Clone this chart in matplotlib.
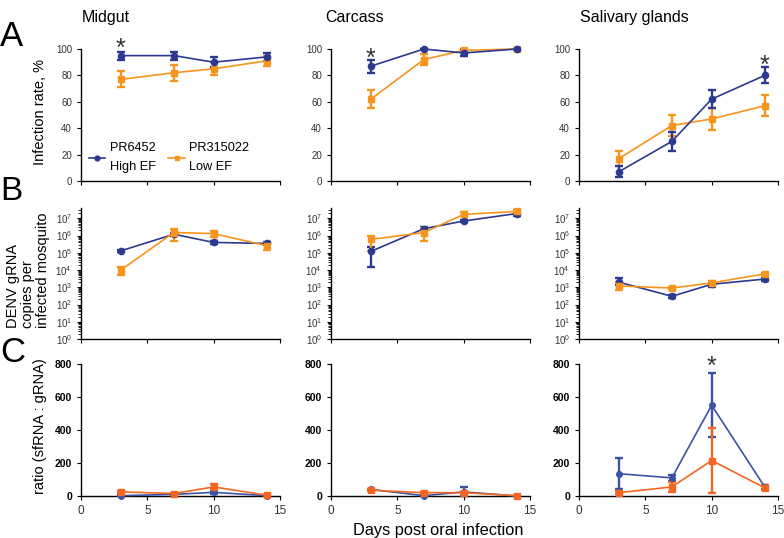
import matplotlib
matplotlib.use('Agg')
import matplotlib.pyplot as plt
from matplotlib.ticker import LogLocator, FixedLocator, NullFormatter
from matplotlib.lines import Line2D

plt.rcParams.update({
    'font.family': ['Liberation Sans', 'DejaVu Sans'],
    'mathtext.fontset': 'custom',
    'mathtext.rm': 'Liberation Sans',
    'mathtext.it': 'Liberation Sans',
    'axes.spines.top': False,
    'axes.spines.right': False,
    'axes.linewidth': 1.0,
})

C_BLUE = '#2b3990'
C_ORANGE = '#f7941d'
C_BLUE2 = '#3a53a4'
C_RED = '#f26522'

days = [3, 7, 10, 14]
tissues = ['Midgut', 'Carcass', 'Salivary glands']

# Row A: infection rate (%)
rate_hi = [[95, 95, 90, 94], [87, 100, 97, 100], [7, 30, 62, 80]]
rate_hi_err = [[3, 3, 4, 3], [5, 0, 2, 0], [4, 7, 7, 6]]
rate_lo = [[77, 82, 85, 91], [62, 92, 99, 100], [17, 42, 47, 57]]
rate_lo_err = [[6, 6, 5, 4], [7, 4, 1, 0], [6, 8, 8, 8]]
rate_star = [(3, 95), (3, 87), (14, 82)]

# Row B: gRNA copies per infected mosquito
copies_hi = [[1.3e5, 1.2e6, 4e5, 3.5e5], [1.2e5, 2.5e6, 7e6, 1.9e7], [2e3, 3e2, 1.5e3, 3e3]]
copies_hi_lo = [[1.1e5, 9e5, 3.3e5, 3e5], [1.5e4, 2e6, 6e6, 1.4e7], [1.3e3, 2.5e2, 1.1e3, 2.4e3]]
copies_hi_up = [[1.5e5, 1.5e6, 5e5, 4e5], [2.2e5, 3e6, 8e6, 2.3e7], [3.6e3, 3.5e2, 2e3, 3.6e3]]
copies_lo = [[1e4, 1.5e6, 1.3e6, 2.6e5], [6e5, 1.5e6, 1.7e7, 2.5e7], [1.2e3, 9e2, 1.8e3, 6e3]]
copies_lo_lo = [[5e3, 5e5, 8e5, 1.5e5], [1.3e5, 5e5, 1.3e7, 2e7], [7e2, 7.5e2, 1.5e3, 5e3]]
copies_lo_up = [[1.6e4, 2.5e6, 1.9e6, 3.5e5], [1e6, 2.6e6, 2.2e7, 3e7], [2e3, 1.1e3, 2.2e3, 7e3]]

# Row C: sfRNA:gRNA ratio
ratio_hi = [[2, 10, 22, 2], [40, 2, 25, 0], [135, 110, 550, 55]]
ratio_hi_err = [[2, 4, 8, 2], [5, 3, 28, 2], [95, 20, 195, 10]]
ratio_lo = [[25, 15, 55, 5], [35, 20, 20, 2], [20, 55, 215, 50]]
ratio_lo_err = [[8, 5, 15, 3], [5, 5, 6, 2], [10, 30, 195, 15]]
ratio_star = [None, None, (10, 738)]

fig = plt.figure(figsize=(7.84, 5.38), dpi=100)
W, H = 784, 538
col_x = [81, 331, 579]
col_w = 199
title_x = [82, 325, 580]

def make_ax(x0, top, bottom):
    return fig.add_axes([x0 / W, 1 - bottom / H, col_w / W, (bottom - top) / H])

def eb(ax, y, yerr, color, marker, ms):
    ax.errorbar(days, y, yerr=yerr, color=color, marker=marker, ms=ms,
                lw=1.2, elinewidth=1.7, capsize=3, capthick=1.7, clip_on=False, zorder=3)

for i in range(3):
    # Row A
    ax = make_ax(col_x[i], 49, 181)
    eb(ax, rate_lo[i], rate_lo_err[i], C_ORANGE, 's', 4.5)
    eb(ax, rate_hi[i], rate_hi_err[i], C_BLUE, 'o', 4.5)
    ax.set_xlim(0, 15)
    ax.set_ylim(0, 100)
    ax.set_yticks([0, 20, 40, 60, 80, 100])
    ax.set_xticks([0, 5, 10, 15])
    ax.set_xticklabels([])
    ax.tick_params(labelsize=7, length=3, labelcolor='#333333')
    sx, sy = rate_star[i]
    ax.text(sx, sy, '*', ha='center', va='baseline', fontsize=18, color='#333333')
    fig.text(title_x[i] / W, 1 - 22 / H, tissues[i], ha='left', va='baseline', fontsize=11.5)
    if i == 0:
        handles = [Line2D([0], [0], color=C_BLUE, marker='o', ms=3.5, lw=1.2),
                   Line2D([0], [0], color=C_ORANGE, marker='s', ms=3.5, lw=1.2)]
        ax.legend(handles, ['PR6452\nHigh EF', 'PR315022\nLow EF'], ncol=2,
                  loc='lower left', bbox_to_anchor=(-0.02, -0.03), frameon=False,
                  fontsize=9.2, handlelength=1.3, handletextpad=0.35, columnspacing=1.0,
                  labelspacing=0.3)
        for t in ax.get_legend().get_texts():
            t.set_linespacing(1.8)

    # Row B
    ax = make_ax(col_x[i], 208, 339)
    lo_err = [[v - l for v, l in zip(copies_lo[i], copies_lo_lo[i])],
              [u - v for v, u in zip(copies_lo[i], copies_lo_up[i])]]
    hi_err = [[v - l for v, l in zip(copies_hi[i], copies_hi_lo[i])],
              [u - v for v, u in zip(copies_hi[i], copies_hi_up[i])]]
    eb(ax, copies_hi[i], hi_err, C_BLUE, 'o', 4.5)
    eb(ax, copies_lo[i], lo_err, C_ORANGE, 's', 4.5)
    ax.set_yscale('log')
    ax.set_xlim(0, 15)
    ax.set_ylim(1, 10 ** 7.6)
    ax.yaxis.set_major_locator(FixedLocator([10 ** k for k in range(8)]))
    ax.yaxis.set_minor_locator(LogLocator(base=10, subs=range(2, 10), numticks=20))
    ax.yaxis.set_minor_formatter(NullFormatter())
    ax.set_yticklabels([f'$10^{{{k}}}$' for k in range(8)])
    ax.set_xticks([0, 5, 10, 15])
    ax.set_xticklabels([])
    ax.tick_params(labelsize=7, length=3, labelcolor='#333333')
    ax.tick_params(which='minor', length=2)

    # Row C
    ax = make_ax(col_x[i], 364, 496)
    eb(ax, ratio_hi[i], ratio_hi_err[i], C_BLUE2, 'o', 4)
    eb(ax, ratio_lo[i], ratio_lo_err[i], C_RED, 's', 4)
    ax.set_xlim(0, 15)
    ax.set_ylim(0, 800)
    ax.set_yticks([0, 200, 400, 600, 800])
    ax.set_xticks([0, 5, 10, 15])
    ax.tick_params(axis='y', labelsize=7.5, length=3)
    ax.tick_params(axis='x', labelsize=8.5, length=3, labelcolor='#333333')
    for lab in ax.get_yticklabels():
        lab.set_fontweight('bold')
    if ratio_star[i] is not None:
        sx, sy = ratio_star[i]
        ax.text(sx, sy, '*', ha='center', va='baseline', fontsize=18,
                color='#333333', clip_on=False)

# Axis labels
fig.text(40 / W, 1 - 112 / H, 'Infection rate, %', rotation=90,
         ha='center', va='center', fontsize=10.5)
fig.text(28 / W, 1 - 270 / H, 'DENV gRNA\ncopies per\ninfected mosquito', rotation=90,
         ha='center', va='center', multialignment='left', fontsize=10.5, linespacing=1.05)
fig.text(40 / W, 1 - 426 / H, 'ratio (sfRNA : gRNA)', rotation=90,
         ha='center', va='center', fontsize=10.5)
fig.text(438 / W, 1 - 530 / H, 'Days post oral infection', ha='center', va='center',
         fontsize=11.8)

# Panel letters
fig.text(0, 1 - 36 / H, 'A', fontsize=25, va='center', ha='left')
fig.text(0, 1 - 192 / H, 'B', fontsize=24, va='center', ha='left')
fig.text(0, 1 - 352 / H, 'C', fontsize=25, va='center', ha='left')

fig.savefig('out.png', dpi=100)
